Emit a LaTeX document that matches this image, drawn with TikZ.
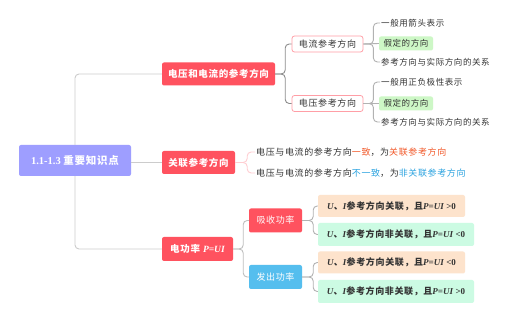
\documentclass[tikz,border=0pt]{standalone}
\usepackage{fontspec}
\setmainfont{Liberation Serif}
\newfontfamily\cjk[LetterSpace=7]{Noto Sans CJK SC}
\definecolor{rootc}{HTML}{9E9EFF}
\definecolor{redc}{HTML}{FF525F}
\definecolor{bluec}{HTML}{55BEEE}
\definecolor{greenc}{HTML}{CDF7C6}
\definecolor{peachc}{HTML}{FDE3CC}
\definecolor{mintc}{HTML}{CCFBE3}
\definecolor{pinkb}{HTML}{FF9EA6}
\definecolor{orangec}{HTML}{F2592A}
\definecolor{bluet}{HTML}{2BA3E0}
\definecolor{txt}{HTML}{333333}
\tikzset{
  rootbox/.style={rounded corners=2pt, fill=rootc, text=white, font=\bfseries\fontsize{10.5}{12}\selectfont, inner sep=0pt},
  mainbox/.style={rounded corners=2pt, fill=#1, text=white, font=\cjk\bfseries\fontsize{9.5}{11}\selectfont, inner sep=0pt},
  subbox/.style={rounded corners=2.5pt, fill=white, draw=pinkb, line width=0.8pt, text=txt, font=\cjk\fontsize{9}{11}\selectfont, inner sep=0pt},
  tagbox/.style={rounded corners=2pt, fill=greenc, text=txt, font=\cjk\fontsize{8.5}{10}\selectfont, inner sep=0pt},
  leaftext/.style={anchor=west, text=txt, font=\cjk\fontsize{8.5}{10}\selectfont, inner sep=1pt},
  pbox/.style={rounded corners=2pt, fill=#1, text=txt, font=\bfseries\fontsize{9}{11}\selectfont, inner sep=0pt},
  conn/.style={draw=#1, line width=0.9pt, rounded corners=4pt},
}
\begin{document}
\begin{tikzpicture}[x=1pt,y=-1pt]
\useasboundingbox (0,0) rectangle (528,320);
\fill[white] (0,0) rectangle (528,320);

% nodes
\node[rootbox, minimum width=112pt, minimum height=31pt] (root) at (75,160.5) {1.1-1.3 {\cjk 重要知识点}};
\node[mainbox=redc, minimum width=113pt, minimum height=23pt] (n1) at (218.5,74) {电压和电流的参考方向};
\node[mainbox=redc, minimum width=73pt, minimum height=23pt] (n2) at (198.5,162.5) {关联参考方向};
\node[mainbox=redc, minimum width=71pt, minimum height=24pt] (n3) at (197.5,249) {电功率\hspace{3pt}{\rmfamily\itshape P=UI}};

\node[subbox, minimum width=71pt, minimum height=16pt] (c1) at (327.5,44) {电流参考方向};
\node[subbox, minimum width=71pt, minimum height=16pt] (c2) at (327.5,103.5) {电压参考方向};

\node[leaftext] (t1) at (380,23) {一般用箭头表示};
\node[tagbox, minimum width=54pt, minimum height=14pt] (g1) at (406,43.5) {假定的方向};
\node[leaftext] (t2) at (380,62) {参考方向与实际方向的关系};
\node[leaftext] (t3) at (380,82) {一般用正负极性表示};
\node[tagbox, minimum width=54pt, minimum height=14pt] (g2) at (406,103.5) {假定的方向};
\node[leaftext] (t4) at (380,122) {参考方向与实际方向的关系};

\node[leaftext, font=\cjk\fontsize{9}{11}\selectfont] (a1) at (255,152) {电压与电流的参考方向\textcolor{orangec}{一致}，为\textcolor{orangec}{关联参考方向}};
\node[leaftext, font=\cjk\fontsize{9}{11}\selectfont] (a2) at (255,173) {电压与电流的参考方向\textcolor{bluet}{不一致}，为\textcolor{bluet}{非关联参考方向}};

\node[mainbox=redc, font=\cjk\fontsize{9}{11}\selectfont, minimum width=53pt, minimum height=24pt] (p1) at (275.5,220.5) {吸收功率};
\node[mainbox=bluec, font=\cjk\fontsize{9}{11}\selectfont, minimum width=53pt, minimum height=24pt] (p2) at (275.5,277) {发出功率};

\node[pbox=peachc, minimum width=147pt, minimum height=22pt] (l1) at (391.5,206) {\textit{U}{\cjk 、}\textit{I}{\cjk 参考方向关联，且}\textit{P=UI} >0};
\node[pbox=mintc, minimum width=156pt, minimum height=23pt] (l2) at (396,234.5) {\textit{U}{\cjk 、}\textit{I}{\cjk 参考方向非关联，且}\textit{P=UI} <0};
\node[pbox=peachc, minimum width=147pt, minimum height=22pt] (l3) at (391.5,262.5) {\textit{U}{\cjk 、}\textit{I}{\cjk 参考方向关联，且}\textit{P=UI} <0};
\node[pbox=mintc, minimum width=156pt, minimum height=23pt] (l4) at (396,291.5) {\textit{U}{\cjk 、}\textit{I}{\cjk 参考方向非关联，且}\textit{P=UI} >0};

% connectors
\draw[conn=black!20] (root.north) |- (n1.west);
\draw[conn=black!20] (root.south) |- (n3.west);
\draw[conn=black!20] (root.east |- n2.west) -- (n2.west);

\draw[conn=black!45] (n1.east) -- ++(10,0) |- (c1.west);
\draw[conn=black!45] (n1.east) -- ++(10,0) |- (c2.west);

\draw[conn=black!30] (c1.east) -- ++(10,0) |- (t1.west);
\draw[conn=black!30] (c1.east) -- (g1.west);
\draw[conn=black!30] (c1.east) -- ++(10,0) |- (t2.west);
\draw[conn=black!30] (c2.east) -- ++(10,0) |- (t3.west);
\draw[conn=black!30] (c2.east) -- (g2.west);
\draw[conn=black!30] (c2.east) -- ++(10,0) |- (t4.west);

\draw[conn=pinkb!50] (n2.east) -- ++(12,0) |- (a1.west);
\draw[conn=pinkb!50] (n2.east) -- ++(12,0) |- (a2.west);

\draw[conn=black!25] (n3.east) -- ++(10,0) |- (p1.west);
\draw[conn=black!25] (n3.east) -- ++(10,0) |- (p2.west);

\draw[conn=black!30] (p1.east) -- ++(11,0) |- (l1.west);
\draw[conn=black!30] (p1.east) -- ++(11,0) |- (l2.west);
\draw[conn=black!30] (p2.east) -- ++(11,0) |- (l3.west);
\draw[conn=black!30] (p2.east) -- ++(11,0) |- (l4.west);
\end{tikzpicture}
\end{document}
